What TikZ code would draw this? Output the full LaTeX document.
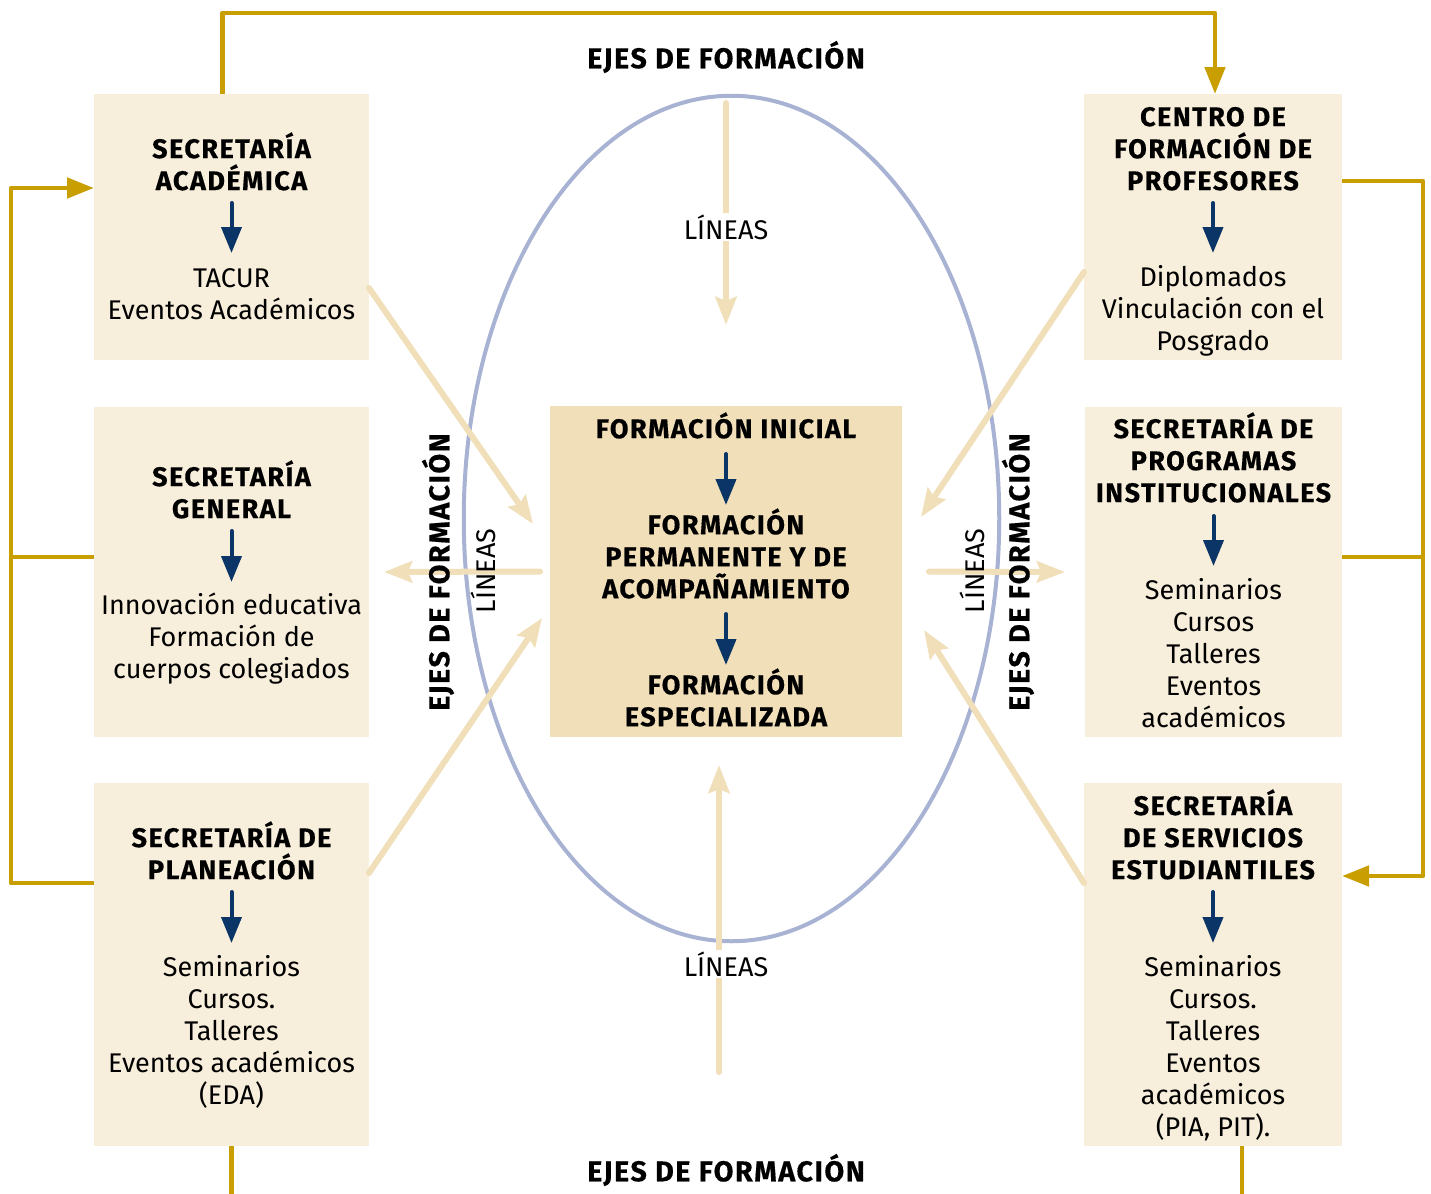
\documentclass[tikz,border=0pt]{standalone}
\usepackage{fontspec}
\setmainfont{Fira Sans}
\newfontfamily\hdfont[LetterSpace=5.5,BoldFeatures={FakeBold=0.4}]{Fira Sans}
\usetikzlibrary{arrows.meta,shapes.geometric}
\definecolor{boxc}{HTML}{F8EEDC}
\definecolor{cenc}{HTML}{F0DFB8}
\definecolor{lightc}{HTML}{F0DFB8}
\definecolor{goldc}{HTML}{C99E00}
\definecolor{navyc}{HTML}{0B3566}
\definecolor{ellc}{HTML}{A8B2D3}
\begin{document}
\begin{tikzpicture}[x=0.5pt,y=-0.5pt,
  box/.style={fill=boxc, anchor=north west, inner sep=0, outer sep=0},
  cbox/.style={fill=cenc, anchor=north west, inner sep=0, outer sep=0},
  hd/.style={font=\fontsize{13.5}{16}\selectfont\hdfont\bfseries, align=center, inner sep=0},
  ejes/.style={font=\fontsize{14.3}{16}\selectfont\hdfont\bfseries, inner sep=0},
  bd/.style={font=\fontsize{13.5}{16}\selectfont, align=center, inner sep=0},
  goldline/.style={draw=goldc, line width=2.4pt, line join=round},
  goldtip/.style={-{Triangle[width=10pt,length=13.5pt]}},
  navyarr/.style={draw=navyc, line width=2pt, line cap=round, -{Triangle[width=10pt,length=13pt]}},
  lightarr/.style={draw=lightc, line width=3pt, line cap=round, -{Stealth[width=10.5pt,length=14pt,inset=2pt]}}
]
\useasboundingbox (0,0) rectangle (1431,1194);

% ellipse
\node[draw=ellc, line width=2pt, ellipse, minimum width=267.75pt, minimum height=422.75pt, inner sep=0] (ell) at (731.5,518.5) {};

% boxes
\node[box, minimum width=137.5pt, minimum height=133pt] (sa) at (94,94) {};
\node[box, minimum width=137.5pt, minimum height=165pt] (sg) at (94,407) {};
\node[box, minimum width=137.5pt, minimum height=181.5pt] (sp) at (94,783) {};
\node[box, minimum width=129pt, minimum height=133pt] (cfp) at (1084,94) {};
\node[box, minimum width=128.5pt, minimum height=165pt] (spi) at (1085,407) {};
\node[box, minimum width=129pt, minimum height=181.5pt] (sse) at (1084,783) {};
\node[cbox, minimum width=176pt, minimum height=165.5pt] (cen) at (550,406) {};

% light arrows
\draw[lightarr] ([yshift=151.5pt]cen.north) -- ([yshift=40.5pt]cen.north);
\draw[lightarr] ([xshift=-3.5pt,yshift=-167.5pt]cen.south) -- ([xshift=-3.5pt,yshift=-14pt]cen.south);
\draw[lightarr, shorten <=5pt, shorten >=7.5pt] (cen.west) -- (sg.east);
\draw[lightarr, shorten <=13.5pt, shorten >=10pt] (cen.east) -- (spi.west);
\draw[lightarr] ([yshift=36pt]sa.south east) -- ([xshift=-8.5pt,yshift=-59pt]cen.north west);
\draw[lightarr] ([yshift=44pt]cfp.south west) -- ([xshift=9.5pt,yshift=-55.5pt]cen.north east);
\draw[lightarr] ([yshift=-45pt]sp.north east) -- ([xshift=-4pt,yshift=59.5pt]cen.south west);
\draw[lightarr] ([yshift=-50pt]sse.north west) -- ([xshift=11pt,yshift=53.5pt]cen.south east);

% gold connectors
\draw[goldline, goldtip] ([xshift=-4.5pt]sa.north) -- ++(0,-81) -| ([xshift=1pt]cfp.north);
\draw[goldline, goldtip] ([yshift=23pt]cfp.east) -- ++(81,0) |- ([yshift=44.25pt]sse.east);
\draw[goldline] ([yshift=7.5pt]spi.east) -- ++(81,0);
\draw[goldline, goldtip] ([yshift=40.75pt]sp.west) -- ++(-83,0) |- ([yshift=19.5pt]sa.west);
\draw[goldline] ([yshift=7.5pt]sg.west) -- ++(-83,0);
\draw[goldline] (sp.south) -- ++(0,48);
\draw[goldline] ([xshift=14.5pt]sse.south) -- ++(0,48);

% box texts
\node[hd, anchor=south] (sah) at (231.5,191) {SECRETARÍA\\ACADÉMICA};
\node[bd, anchor=north] (sab) at (231.5,268) {TACUR\\Eventos Académicos};
\node[hd, anchor=south] (sgh) at (231.5,519) {SECRETARÍA\\GENERAL};
\node[bd, anchor=north] (sgb) at (231.5,592) {Innovación educativa\\Formación de\\cuerpos colegiados};
\node[hd, anchor=south] (sph) at (231.5,880) {SECRETARÍA DE\\PLANEACIÓN};
\node[bd, anchor=north] (spb) at (231.5,955) {Seminarios\\Cursos.\\Talleres\\Eventos académicos\\(EDA)};
\node[hd, anchor=south] (cfph) at (1213,191) {CENTRO DE\\FORMACIÓN DE\\PROFESORES};
\node[bd, anchor=north] (cfpb) at (1213,265) {Diplomados\\Vinculación con el\\Posgrado};
\node[hd, anchor=south] (spih) at (1213.5,503) {SECRETARÍA DE\\PROGRAMAS\\INSTITUCIONALES};
\node[bd, anchor=north] (spib) at (1213.5,578) {Seminarios\\Cursos\\Talleres\\Eventos\\académicos};
\node[hd, anchor=south] (sseh) at (1213,880) {SECRETARÍA\\DE SERVICIOS\\ESTUDIANTILES};
\node[bd, anchor=north] (sseb) at (1213,955) {Seminarios\\Cursos.\\Talleres\\Eventos\\académicos\\(PIA, PIT).};

% center texts
\node[hd, anchor=south] (ci) at (726,439) {FORMACIÓN INICIAL};
\node[hd, anchor=north] (cm) at (726,508) {FORMACIÓN\\PERMANENTE Y DE\\ACOMPAÑAMIENTO};
\node[hd, anchor=north] (ce) at (726,668) {FORMACIÓN\\ESPECIALIZADA};

% navy arrows
\draw[navyarr, shorten <=6pt, shorten >=7.5pt] (sah.south) -- (sab.north);
\draw[navyarr, shorten <=6pt, shorten >=5pt] (sgh.south) -- (sgb.north);
\draw[navyarr, shorten <=6pt, shorten >=6pt] (sph.south) -- (spb.north);
\draw[navyarr, shorten <=6pt, shorten >=6pt] (cfph.south) -- (cfpb.north);
\draw[navyarr, shorten <=6.5pt, shorten >=6pt] (spih.south) -- (spib.north);
\draw[navyarr, shorten <=6pt, shorten >=6pt] (sseh.south) -- (sseb.north);
\draw[navyarr, shorten <=7.5pt, shorten >=1.5pt] (ci.south) -- (cm.north);
\draw[navyarr, shorten <=7.5pt, shorten >=1.5pt] (cm.south) -- (ce.north);

% labels
\node[ejes] (ejt) at (726,57) {EJES DE FORMACIÓN};
\node[ejes] (ejb) at (726,1170) {EJES DE FORMACIÓN};
\node[ejes, rotate=90] (ejl) at (438,572) {EJES DE FORMACIÓN};
\node[ejes, rotate=90] (ejr) at (1018,572) {EJES DE FORMACIÓN};
\node[bd, fill=white, inner sep=1pt] (lt) at (726,227) {LÍNEAS};
\node[bd, fill=white, inner sep=1pt] (lb) at (726,964) {LÍNEAS};
\node[bd, rotate=90] (lnl) at (483,571) {LÍNEAS};
\node[bd, rotate=90] (lnr) at (972,571) {LÍNEAS};
\end{tikzpicture}
\end{document}
